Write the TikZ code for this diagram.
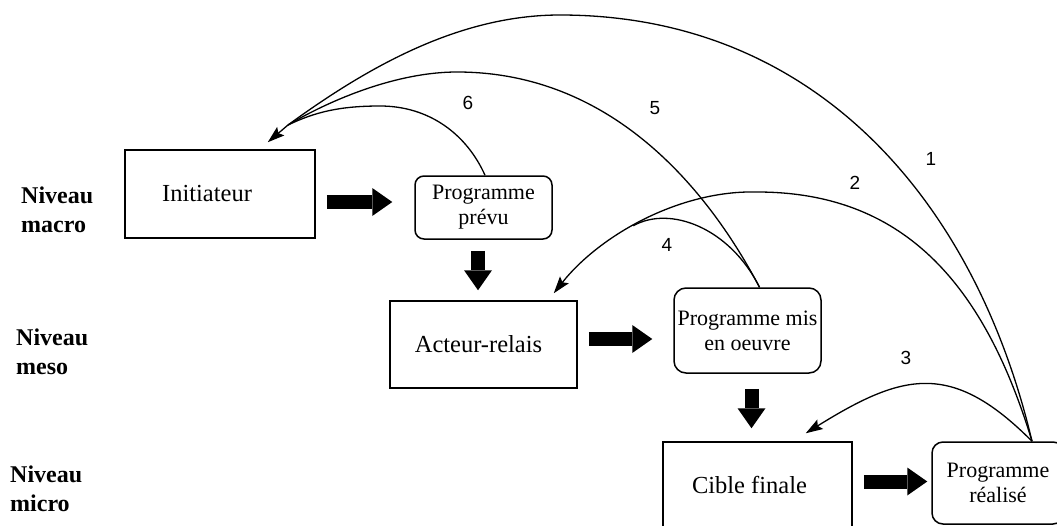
\documentclass[tikz,border=0pt]{standalone}
\usepackage{fontspec}
\setmainfont{Liberation Serif}
\newfontfamily\numfont{Liberation Sans}
\usetikzlibrary{arrows.meta}
\begin{document}
\begin{tikzpicture}[x=1pt,y=-1pt,
  box/.style={draw, line width=1.5pt, inner sep=0pt, align=center},
  bigbox/.style={box, font=\fontsize{24.5}{28}\selectfont},
  progbox/.style={box, rounded corners=9pt, font=\fontsize{22}{25}\selectfont},
  level/.style={anchor=west, inner sep=0pt, align=left, font=\fontsize{24}{29}\selectfont\bfseries},
  num/.style={inner sep=0pt, font=\numfont\fontsize{19}{22}\selectfont},
  blockarrow/.style={line width=14pt, -{Triangle[length=20pt,width=28pt,line width=0pt]}},
  fb/.style={line width=1.3pt},
  fbarrow/.style={fb, -{Stealth[length=17pt,width=11pt,inset=3pt]}}]
\fill[white] (0,0) rectangle (1057,525);
\useasboundingbox (0,0) rectangle (1057,525);
\clip (0,0) rectangle (1057,525);

% level labels
\node[level] (lmacro) at (21,209.6) {Niveau\\macro};
\node[level] (lmeso) at (16,351.6) {Niveau\\meso};
\node[level] (lmicro) at (10,488.6) {Niveau\\micro};

% boxes
\node[bigbox, minimum width=190pt, minimum height=88pt] (init) at (220,194) {\hspace*{-26pt}Initiateur};
\node[progbox, minimum width=137pt, minimum height=63pt] (prevu) at (483.5,207.5) {Programme\\prévu};
\node[bigbox, minimum width=187pt, minimum height=87pt] (acteur) at (483.5,344.5) {\hspace*{-10pt}Acteur-relais};
\node[progbox, rounded corners=12pt, minimum width=147pt, minimum height=85pt] (mis) at (747.5,330.5) {Programme mis\\en oeuvre};
\node[bigbox, minimum width=189pt, minimum height=86pt] (cible) at (757.5,485) {\hspace*{-16pt}Cible finale};
\node[progbox, rounded corners=11pt, minimum width=132pt, minimum height=82pt] (realise) at (998,483) {Programme\\réalisé};

% block arrows
\draw[blockarrow] ([xshift=11pt,yshift=-8pt]init.east) -- ([xshift=-22pt,yshift=5.5pt]prevu.west);
\draw[blockarrow] ([xshift=-5.5pt,yshift=-11pt]prevu.south) -- ([xshift=-5.5pt,yshift=10pt]acteur.north);
\draw[blockarrow] ([xshift=11pt,yshift=5.5pt]acteur.east) -- ([xshift=-21pt,yshift=-8.5pt]mis.west);
\draw[blockarrow] ([xshift=4pt,yshift=-15pt]mis.south) -- ([xshift=-6pt,yshift=13pt]cible.north);
\draw[blockarrow] ([xshift=11pt,yshift=3.5pt]cible.east) -- ([xshift=-4pt,yshift=1.5pt]realise.west);

% feedback curves
\coordinate (conv) at (288,125);
\coordinate (pstart) at ([xshift=1.5pt]prevu.north);
\coordinate (mstart) at ([xshift=12pt]mis.north);
\coordinate (rstart) at ([xshift=34pt]realise.north);

% 1
\draw[fb] (rstart) .. controls (975,200) and (815,15) .. (560,15)
  .. controls (460,15) and (369,66) .. (conv);
% 5
\draw[fb] (mstart) .. controls (704,182) and (607,72) .. (457,72)
  .. controls (397,72) and (331,99.5) .. (conv);
% 6
\draw[fb] (pstart) .. controls (467,135) and (430,106) .. (380,106)
  .. controls (340,106) and (315,112) .. (conv);
% common head to Initiateur
\draw[fbarrow] (conv) -- ([xshift=-48pt,yshift=7pt]init.north east);

% 2
\draw[fbarrow] (rstart) .. controls (982.7,278.8) and (900,192) .. (757,192)
  .. controls (680,190) and (600,235) .. ([xshift=-24pt,yshift=7pt]acteur.north east)
  coordinate[pos=0.55] (m24);
% 4
\draw[fb] (mstart) .. controls (730,228) and (670,205) .. (m24);
% 3
\draw[fbarrow] (rstart) .. controls (951.5,360.3) and (902.75,373) .. ([xshift=-47pt,yshift=8pt]cible.north east);

% numbers
\node[num] (n6) at (468,103) {6};
\node[num] (n5) at (655,108) {5};
\node[num] (n1) at (931,159) {1};
\node[num] (n2) at (855,183) {2};
\node[num] (n4) at (667,245) {4};
\node[num] (n3) at (906,358) {3};
\end{tikzpicture}
\end{document}
